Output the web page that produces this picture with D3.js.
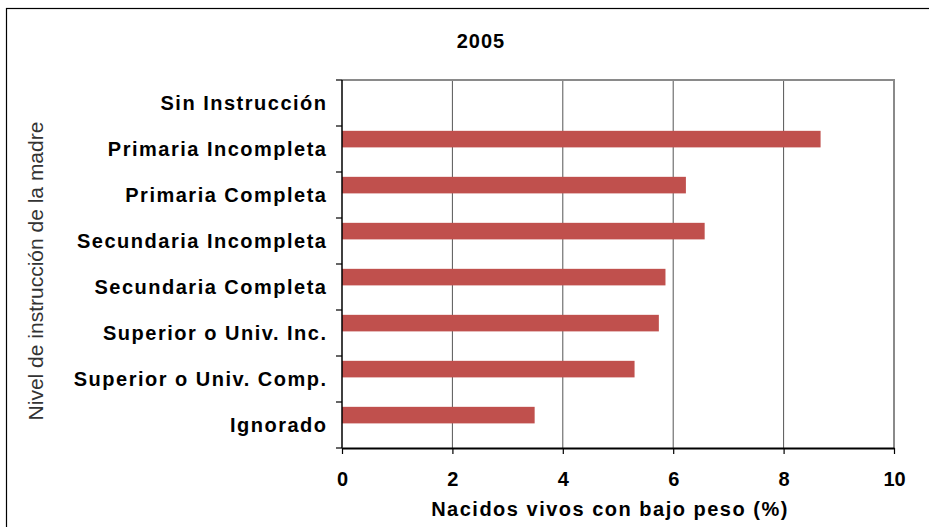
<!DOCTYPE html>
<html>
<head>
<meta charset="utf-8">
<script src="https://d3js.org/d3.v7.min.js"></script>
<style>
  body { margin: 0; background: #fff; }
  text { font-family: "Liberation Sans", Arial, sans-serif; }
</style>
</head>
<body>
<div id="view"></div>
<script>
var width = 929, height = 527;

// data
var categories = [
	"Sin Instrucción",
	"Primaria Incompleta",
	"Primaria Completa",
	"Secundaria Incompleta",
	"Secundaria Completa",
	"Superior o Univ. Inc.",
	"Superior o Univ. Comp.",
	"Ignorado"
];
var values2005 = [0, 8.67, 6.23, 6.57, 5.86, 5.74, 5.30, 3.49];
var xTicks = [0, 2, 4, 6, 8, 10];

var margin = { left: 342, right: 35, top: 80, bottom: 79 };

var svg = d3.select("#view").append("svg")
	.attr("width", width)
	.attr("height", height);

// outer chart border
svg.append("rect")
	.attr("x", 6.5).attr("y", 8.5)
	.attr("width", 960).attr("height", 560)
	.style("fill", "none")
	.style("stroke", "#000")
	.style("stroke-width", 1.2);

var x = d3.scaleLinear()
	.domain([0, 10])
	.range([margin.left, width - margin.right]);

var y = d3.scaleBand()
	.domain(categories)
	.range([margin.top, height - margin.bottom]);

var datas = categories.map(function(c, i) { return { cat: c, v: values2005[i] }; });

// grid lines
svg.selectAll(".grid")
	.data(xTicks.filter(function(t) { return t > 0 && t < 10; })).enter()
	.append("line")
	.attr("x1", function(d) { return x(d); })
	.attr("x2", function(d) { return x(d); })
	.attr("y1", margin.top)
	.attr("y2", height - margin.bottom)
	.style("stroke", "#555")
	.style("stroke-width", 1);

// plot area top and right edges (grey)
svg.append("path")
	.attr("d", "M" + x(0) + "," + margin.top + "H" + x(10) + "V" + (height - margin.bottom))
	.style("fill", "none")
	.style("stroke", "#8a8a8a")
	.style("stroke-width", 2);

// bars (first of two series slots in each band)
svg.selectAll(".bar")
	.data(datas).enter()
	.append("rect")
	.attr("class", "bar")
	.attr("x", x(0))
	.attr("y", function(d) { return y(d.cat) + y.bandwidth() * 0.105; })
	.attr("width", function(d) { return x(d.v) - x(0); })
	.attr("height", y.bandwidth() * 0.36)
	.style("fill", "#C0504D");

// y axis line + ticks at band boundaries
svg.append("line")
	.attr("x1", x(0)).attr("x2", x(0))
	.attr("y1", margin.top).attr("y2", height - margin.bottom)
	.style("stroke", "#000").style("stroke-width", 1.5);

var bounds = categories.map(function(c) { return y(c); }).concat([height - margin.bottom]);
svg.selectAll(".ytick")
	.data(bounds).enter()
	.append("line")
	.attr("x1", x(0) - 6).attr("x2", x(0))
	.attr("y1", function(d) { return d; })
	.attr("y2", function(d) { return d; })
	.style("stroke", "#000").style("stroke-width", 1.2);

// category labels
svg.selectAll(".ylabel")
	.data(categories).enter()
	.append("text")
	.attr("x", 327.5)
	.attr("y", function(d) { return y(d) + y.bandwidth() / 2; })
	.attr("dy", "0.35em")
	.attr("text-anchor", "end")
	.style("font-size", "20px")
	.style("font-weight", "bold")
	.style("letter-spacing", "1.5px")
	.text(function(d) { return d; });

// x axis
var xAxis = svg.append("g")
	.attr("transform", "translate(0," + (height - margin.bottom) + ")")
	.call(d3.axisBottom(x).tickValues(xTicks).tickSize(6).tickSizeOuter(0).tickPadding(18));
xAxis.select(".domain").style("stroke", "#000").style("stroke-width", 2);
xAxis.selectAll(".tick line").style("stroke", "#000").style("stroke-width", 1.2);
xAxis.selectAll(".tick text")
	.style("font-family", "'Liberation Sans', Arial, sans-serif")
	.style("font-size", "20px")
	.style("font-weight", "bold")
	.style("fill", "#000");

// titles
svg.append("text")
	.attr("x", 481).attr("y", 48)
	.attr("text-anchor", "middle")
	.style("font-size", "20px")
	.style("font-weight", "bold")
	.style("letter-spacing", "1px")
	.text("2005");

svg.append("text")
	.attr("x", 610).attr("y", 516)
	.attr("text-anchor", "middle")
	.style("font-size", "20px")
	.style("font-weight", "bold")
	.style("letter-spacing", "1.5px")
	.text("Nacidos vivos con bajo peso (%)");

svg.append("text")
	.attr("transform", "translate(43,271) rotate(-90)")
	.attr("text-anchor", "middle")
	.style("font-size", "21px")
	.style("fill", "#333")
	.text("Nivel de instrucción de la madre");
</script>
</body>
</html>
